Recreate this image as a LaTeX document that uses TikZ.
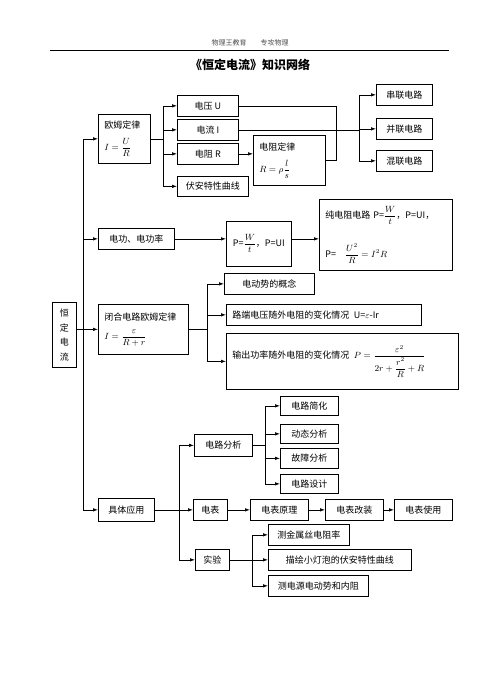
\documentclass[tikz,border=0pt]{standalone}
\usepackage{fontspec}
\usepackage{amsmath}
\newfontfamily\cjk{Noto Sans CJK SC}
\usetikzlibrary{arrows.meta}
\tikzset{
  box/.style={draw, line width=0.7pt, inner sep=0pt, anchor=north west, align=center,
    font=\cjk\fontsize{9}{11}\selectfont},
  lbox/.style={box, align=left, inner xsep=6pt},
  arr/.style={-{Latex[length=5pt,width=3.5pt]}, line width=0.7pt},
  ln/.style={line width=0.7pt}
}
\begin{document}
\begin{tikzpicture}[x=1pt,y=-1pt]
\useasboundingbox (0,0) rectangle (499,691);
% header
\node[font=\cjk\fontsize{7}{8}\selectfont, text=black!70] (hdr) at (250,43) {物理王教育\hspace{2em}专攻物理};
\draw[line width=0.7pt] (50,50) -- (449,50);
\node[font=\cjk\bfseries\fontsize{12}{14}\selectfont] (title) at (250,65) {《恒定电流》知识网络};

% nodes
\node[box, minimum width=24pt, minimum height=65pt, font=\cjk\fontsize{9}{14.5}\selectfont] (hd) at (52,302) {恒\\定\\电\\流};
\node[lbox, minimum width=52pt, minimum height=49pt, text width=40pt] (ohm) at (98,114) {欧姆定律\\[8pt] $I=\dfrac{U}{R}$};
\node[box, minimum width=61pt, minimum height=21pt] (dy) at (177,95) {电压 U};
\node[box, minimum width=61pt, minimum height=21pt] (dl) at (177,119) {电流 I};
\node[box, minimum width=61pt, minimum height=21pt] (dz) at (177,143) {电阻 R};
\node[box, minimum width=71pt, minimum height=20pt] (fa) at (177,176) {伏安特性曲线};
\node[lbox, minimum width=72pt, minimum height=50pt, text width=60pt] (rl) at (253,135) {电阻定律\\[8pt] $R=\rho\dfrac{l}{s}$};
\node[box, minimum width=56pt, minimum height=21pt] (cl) at (376,84) {串联电路};
\node[box, minimum width=56pt, minimum height=21pt] (bl) at (376,118) {并联电路};
\node[box, minimum width=56pt, minimum height=21pt] (hl) at (376,150) {混联电路};

\node[box, minimum width=76pt, minimum height=21pt] (dg) at (98,228) {电功、电功率};
\node[box, minimum width=65pt, minimum height=45pt] (pw) at (226,221) {P=$\dfrac{W}{t}$，P=UI};
\node[lbox, minimum width=133pt, minimum height=71pt, text width=121pt] (cd) at (319,199) {纯电阻电路 P=$\dfrac{W}{t}$，P=UI，\\[18pt] P=\quad$\dfrac{U^2}{R}=I^2R$};

\node[lbox, minimum width=90pt, minimum height=50pt, text width=78pt] (bihe) at (98,304) {闭合电路欧姆定律\\[8pt] $I=\dfrac{\varepsilon}{R+r}$};
\node[box, minimum width=90pt, minimum height=21pt] (ed) at (224,273) {电动势的概念};
\node[lbox, minimum width=195pt, minimum height=21pt, text width=183pt] (ld) at (226,304) {路端电压随外电阻的变化情况\enspace U=$\varepsilon$-Ir};
\node[lbox, minimum width=232pt, minimum height=56pt, text width=220pt] (sc) at (226,333) {输出功率随外电阻的变化情况\enspace $P=\dfrac{\varepsilon^2}{2r+\dfrac{r^2}{R}+R}$};

\node[box, minimum width=58pt, minimum height=22pt] (fx) at (194,434) {电路分析};
\node[box, minimum width=58pt, minimum height=19pt] (jh) at (280,396) {电路简化};
\node[box, minimum width=58pt, minimum height=19pt] (dt) at (280,424) {动态分析};
\node[box, minimum width=58pt, minimum height=20pt] (gz) at (280,448) {故障分析};
\node[box, minimum width=58pt, minimum height=19pt] (sj) at (280,474) {电路设计};
\node[box, minimum width=56pt, minimum height=23pt] (jt) at (98,498) {具体应用};
\node[box, minimum width=34pt, minimum height=21pt] (db) at (193,499) {电表};
\node[box, minimum width=58pt, minimum height=21pt] (yl) at (250,499) {电表原理};
\node[box, minimum width=58pt, minimum height=21pt] (gzz) at (325,499) {电表改装};
\node[box, minimum width=58pt, minimum height=21pt] (sy2) at (394,499) {电表使用};
\node[box, minimum width=34pt, minimum height=21pt] (sy) at (195,549) {实验};
\node[box, minimum width=81pt, minimum height=21pt] (cj) at (268,524) {测金属丝电阻率};
\node[box, minimum width=143pt, minimum height=21pt] (mh) at (268,549) {描绘小灯泡的伏安特性曲线};
\node[box, minimum width=100pt, minimum height=21pt] (cy) at (268,575) {测电源电动势和内阻};

% reference coordinates
\coordinate (s1) at (83,0);
\coordinate (ob) at (163,0);
\coordinate (jb) at (336,0);
\coordinate (sb) at (359,0);
\coordinate (bb) at (207,0);
\coordinate (ab) at (179,0);
\coordinate (fb) at (265,0);
\coordinate (eb) at (252,0);

% main spine
\draw[ln] (s1 |- ohm.west) -- (s1 |- jt.west);
\draw[arr] (s1 |- ohm.west) -- (ohm.west);
\draw[arr] (s1 |- dg.west) -- (dg.west);
\draw[arr] (hd.east |- bihe.west) -- (bihe.west);
\draw[arr] (s1 |- jt.west) -- (jt.west);

% ohm branch
\draw[ln] (ohm.east) -- (ohm.east -| ob);
\draw[ln] (ob |- dy.west) -- (ob |- fa.west);
\draw[arr] (ob |- dy.west) -- (dy.west);
\draw[arr] (ob |- dl.west) -- (dl.west);
\draw[arr] (ob |- dz.west) -- (dz.west);
\draw[arr] (ob |- fa.west) -- (fa.west);
\draw[arr] (dz.east) -- (dz.east -| rl.west);
\draw[ln] (dy.east) -- (dy.east -| jb) -- (jb |- rl.east) -- (rl.east);
\draw[ln] (dl.east) -- (dl.east -| sb);
\draw[ln] (sb |- cl.west) -- (sb |- hl.west);
\draw[arr] (sb |- cl.west) -- (cl.west);
\draw[arr] (sb |- bl.west) -- (bl.west);
\draw[arr] (sb |- hl.west) -- (hl.west);

% power
\draw[arr] (dg.east) -- (dg.east -| pw.west);
\draw[arr] (dg.east -| pw.east) -- (dg.east -| cd.west);

% closed circuit
\draw[ln] (bihe.east) -- (bihe.east -| bb);
\draw[ln] (bb |- ed.west) -- (bb |- sc.west);
\draw[arr] (bb |- ed.west) -- (ed.west);
\draw[arr] (bb |- ld.west) -- (ld.west);
\draw[arr] (bb |- sc.west) -- (sc.west);

% application
\draw[ln] (jt.east) -- (jt.east -| ab);
\draw[ln] (ab |- fx.west) -- (ab |- sy.west);
\draw[arr] (ab |- fx.west) -- (fx.west);
\draw[arr] (ab |- db.west) -- (db.west);
\draw[arr] (ab |- sy.west) -- (sy.west);
\draw[ln] (fx.east) -- (fx.east -| fb);
\draw[ln] (fb |- jh.west) -- (fb |- sj.west);
\draw[arr] (fb |- jh.west) -- (jh.west);
\draw[arr] (fb |- dt.west) -- (dt.west);
\draw[arr] (fb |- gz.west) -- (gz.west);
\draw[arr] (fb |- sj.west) -- (sj.west);
\draw[arr] (db.east) -- (yl.west);
\draw[arr] (yl.east) -- (gzz.west);
\draw[arr] (gzz.east) -- (sy2.west);
\draw[ln] (sy.east) -- (sy.east -| eb);
\draw[ln] (eb |- cj.west) -- (eb |- cy.west);
\draw[arr] (eb |- cj.west) -- (cj.west);
\draw[arr] (eb |- mh.west) -- (mh.west);
\draw[arr] (eb |- cy.west) -- (cy.west);
\end{tikzpicture}
\end{document}
